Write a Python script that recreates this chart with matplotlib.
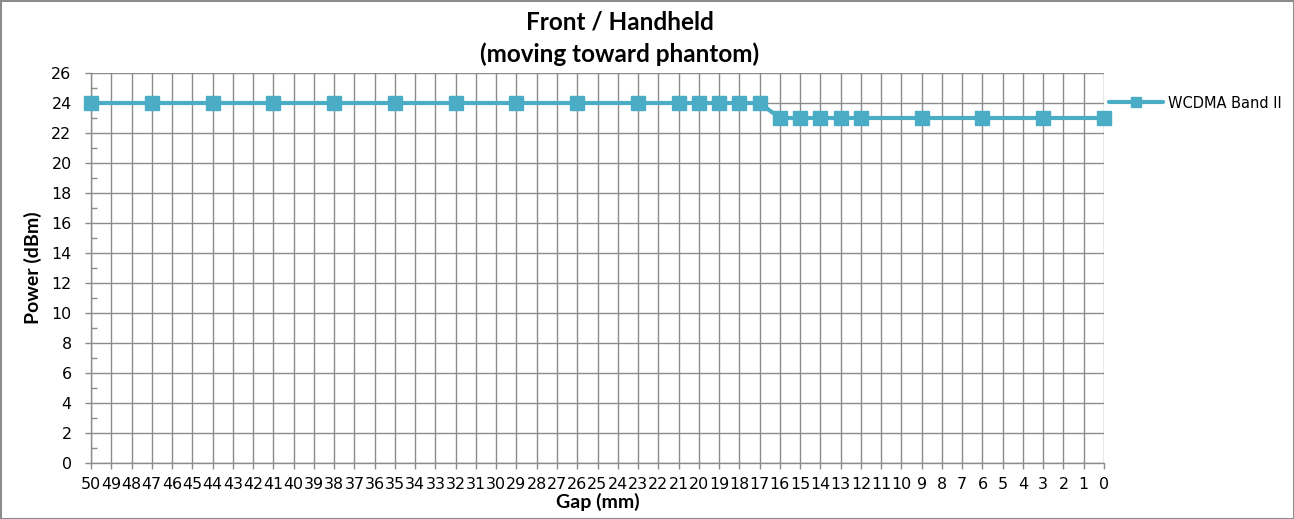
import matplotlib
matplotlib.use("Agg")
import matplotlib.pyplot as plt
from matplotlib.patches import Rectangle
from matplotlib.ticker import MultipleLocator

gap_mm = [50, 47, 44, 41, 38, 35, 32, 29, 26, 23, 21, 20, 19, 18, 17,
          16, 15, 14, 13, 12, 9, 6, 3, 0]
power_dbm = [24, 24, 24, 24, 24, 24, 24, 24, 24, 24, 24, 24, 24, 24, 24,
             23, 23, 23, 23, 23, 23, 23, 23, 23]
series_name = "WCDMA Band II"
x_ticks = list(range(50, -1, -1))
y_ticks = list(range(0, 27, 2))

W, H = 1294, 519
fig = plt.figure(figsize=(W / 100, H / 100), dpi=100)
ax = fig.add_axes([91 / W, 1 - 463 / H, (1104 - 91) / W, (463 - 73) / H])

color = "#4BACC6"
grid_c = "#8C8C8C"

ax.plot(gap_mm, power_dbm, color=color, lw=3.0, marker="s", ms=10,
        mec=color, mfc=color, label=series_name, zorder=3, clip_on=False,
        solid_capstyle="round")

ax.set_xlim(50, 0)
ax.set_ylim(0, 26)
ax.set_xticks(x_ticks)
ax.set_xticklabels([str(v) for v in x_ticks])
ax.set_yticks(y_ticks)
ax.yaxis.set_minor_locator(MultipleLocator(1))

ax.grid(True, which="major", color=grid_c, lw=1.0)
ax.set_axisbelow(True)
for s in ["top", "right"]:
    ax.spines[s].set_visible(False)
for s in ["left", "bottom"]:
    ax.spines[s].set_color(grid_c)
    ax.spines[s].set_linewidth(1.0)

ax.tick_params(axis="x", which="major", direction="out", length=4, width=1,
               color=grid_c, pad=6, labelsize=11.4)
ax.tick_params(axis="y", which="major", direction="out", length=4, width=1,
               color=grid_c, pad=10, labelsize=11.4)
ax.tick_params(axis="y", which="minor", direction="in", length=4, width=1,
               color=grid_c)
for lab in ax.get_xticklabels() + ax.get_yticklabels():
    lab.set_family("DejaVu Sans")

fig.text(620 / W, 1 - 22 / H, "Front / Handheld", ha="center", va="center",
         fontsize=17.5, fontweight="bold", family="Lato")
fig.text(620 / W, 1 - 54 / H, "(moving toward phantom)", ha="center",
         va="center", fontsize=17.5, fontweight="bold", family="Lato")

ax.set_xlabel("Gap (mm)", fontsize=14, fontweight="bold", family="Lato",
              labelpad=1)
ax.set_ylabel("Power (dBm)", fontsize=14, fontweight="bold", family="Lato",
              labelpad=7)

leg = fig.legend(loc="center left", bbox_to_anchor=(1109 / W, 1 - 103 / H),
                 frameon=False, handlelength=3.7, handletextpad=0.35,
                 borderaxespad=0, borderpad=0, markerscale=0.7,
                 prop=dict(family="DejaVu Sans", size=10.5))

fig.patches.append(Rectangle((0.5 / W, 0.5 / H), 1 - 1 / W, 1 - 1 / H,
                             transform=fig.transFigure, fill=False,
                             edgecolor="#8C8C8C", lw=1.5))

fig.savefig("out.png", dpi=100)
